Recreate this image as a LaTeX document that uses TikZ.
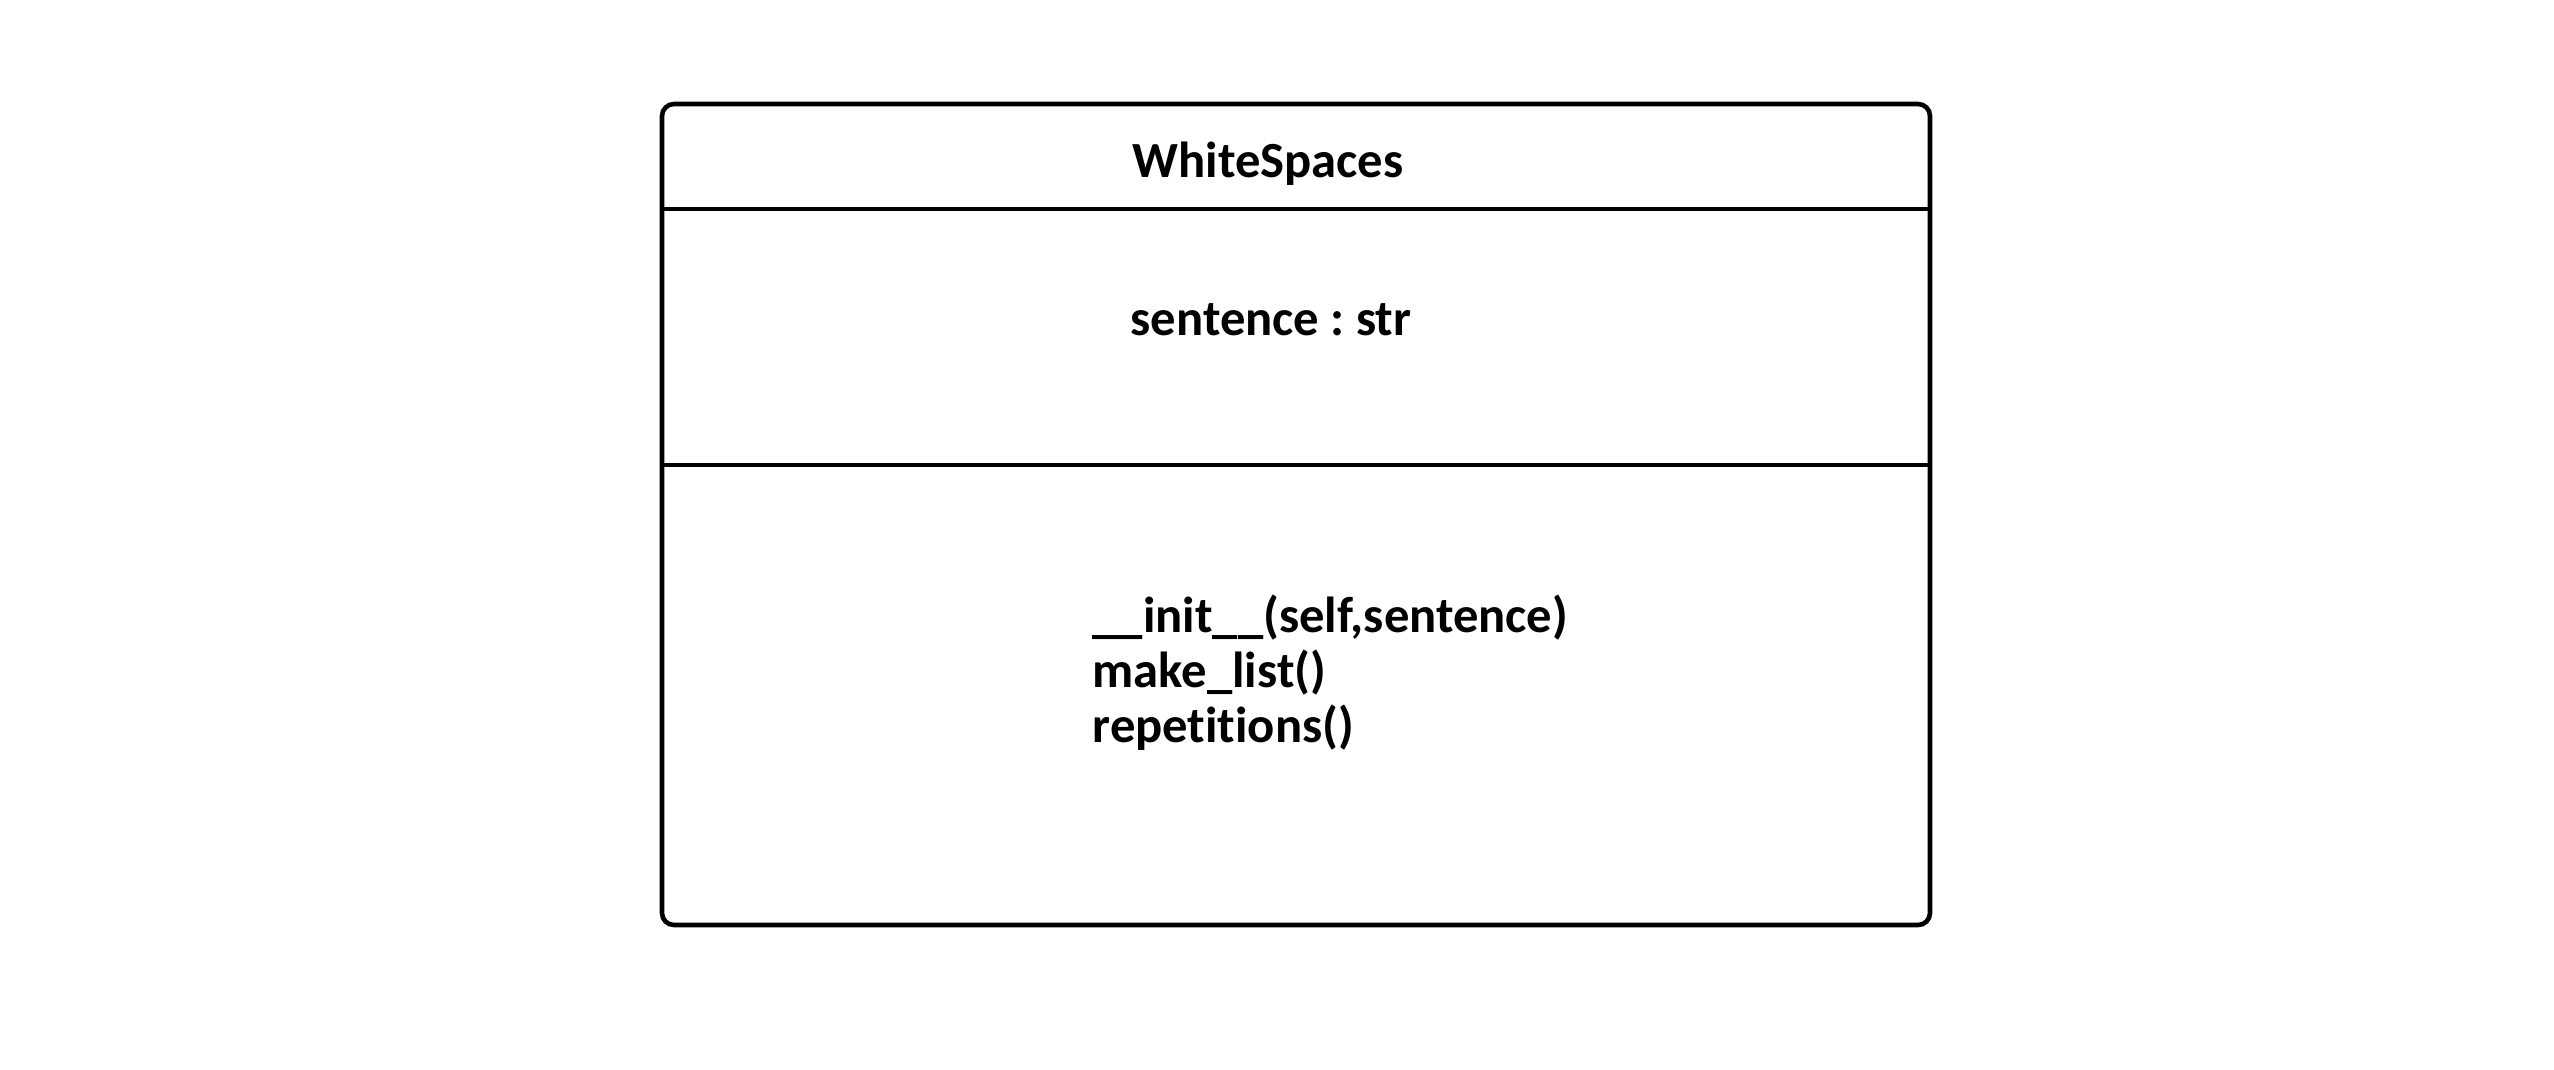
\documentclass[tikz,border=0pt]{standalone}
\usepackage{fontspec}
\setmainfont{Carlito}[Ligatures={NoCommon}]
\usepackage{tikz}

\tikzset{
  classline/.style={line width=1.3pt},
  classtext/.style={inner sep=0pt, font=\fontsize{14.4pt}{16pt}\selectfont\bfseries\frenchspacing},
}

\begin{document}
\begin{tikzpicture}[x=0.01cm, y=-0.01cm]
	\useasboundingbox (0, 0) rectangle (2554, 1069);
\draw[classline, rounded corners=3.4pt] (662, 104) rectangle (1930, 925); % Class.box 
\draw[classline] (662, 209) -- (1930, 209); % Class.name 
\draw[classline] (662, 465) -- (1930, 465); % Class.attrs 
\node[classtext, anchor=base] (name) at (1268, 177) {WhiteSpaces}; % name 
\node[classtext, anchor=base west] (attr) at (1130, 335) {sentence : str}; % attr 
\node[classtext, anchor=base west] (init) at (1092, 632) {\_\_init\_\_(self,sentence)}; % method.0 
\node[classtext, anchor=base west] (makelist) at (1092, 687) {make\_list()}; % method.1 
\node[classtext, anchor=base west] (reps) at (1092, 742) {repetitions()}; % method.2 

	\end{tikzpicture}
\end{document}
